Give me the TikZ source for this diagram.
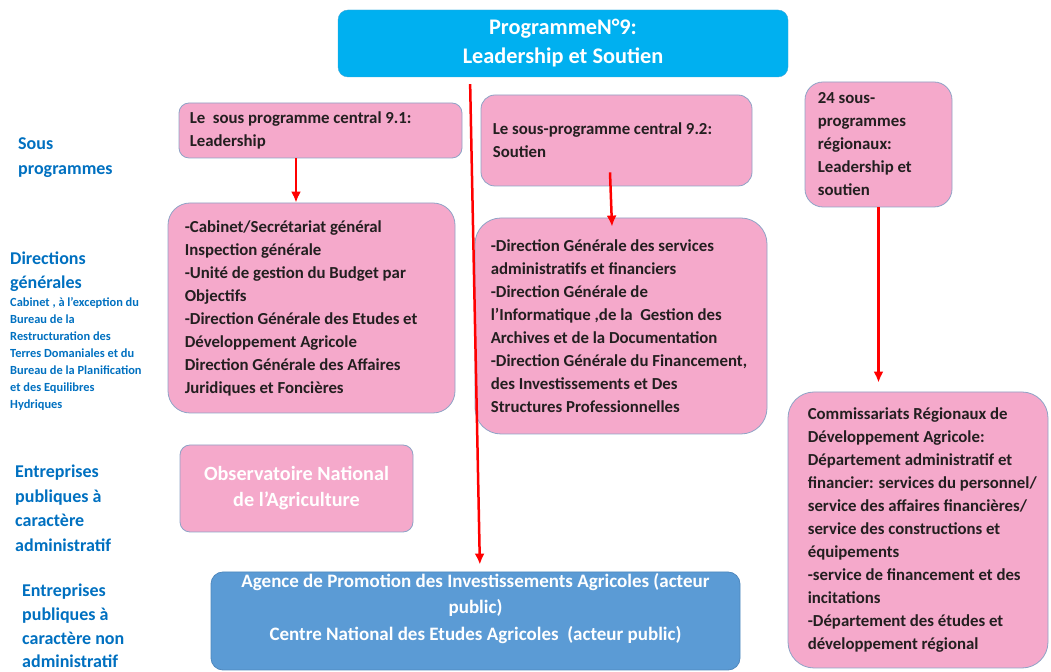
\documentclass[tikz,border=0pt]{standalone}
\usepackage{fontspec}
\setmainfont{Carlito}
\usetikzlibrary{arrows.meta}
\definecolor{progblue}{HTML}{00B0F0}
\definecolor{progline}{HTML}{3EA6D8}
\definecolor{pinkfill}{HTML}{F5A9CB}
\definecolor{pinkline}{HTML}{8EA3C6}
\definecolor{epnablue}{HTML}{5B9BD5}
\definecolor{epnaline}{HTML}{4F88BE}
\definecolor{labelblue}{HTML}{0070C0}
\definecolor{boxink}{HTML}{231F20}
\definecolor{arrowred}{HTML}{FF0000}
\tikzset{
  pinkbox/.style={draw=pinkline,fill=pinkfill,line width=0.8bp,inner sep=0pt},
  boxtext/.style={anchor=west,align=left,inner sep=0pt,text=boxink,
    font=\bfseries\fontsize{16.8bp}{23bp}\selectfont},
  sidelabel/.style={anchor=west,align=left,inner sep=0pt,text=labelblue,
    font=\bfseries\fontsize{18bp}{24.5bp}\selectfont},
  redarrow/.style={->,draw=arrowred,line width=2.5bp},
}
\begin{document}
\begin{tikzpicture}[>={Latex[length=11bp,width=10bp]},line join=bevel,]
    \useasboundingbox (0bp,0bp) rectangle (1051bp,672bp);
    %% programme
    \node (prog) at (563bp,628.5bp) [draw=progline,fill=progblue,rounded corners=10bp,minimum width=450bp,minimum height=67bp,align=center,text=white,font=\bfseries\fontsize{22.3bp}{29bp}\selectfont] {ProgrammeN°9:\\Leadership et Soutien};
    %% sous programmes
    \node (sp1) at (320.5bp,541.5bp) [pinkbox,rounded corners=10bp,minimum width=283bp,minimum height=55bp] {};
    \node (sp1txt) at ([xshift=11bp]sp1.west) [boxtext] {Le\ \ sous programme central 9.1:\\Leadership};
    \node (sp2) at (616.5bp,531.5bp) [pinkbox,rounded corners=14bp,minimum width=271bp,minimum height=91bp] {};
    \node (sp2txt) at ([xshift=12bp]sp2.west) [boxtext] {Le sous-programme central 9.2:\\Soutien};
    \node (sp3) at (878.5bp,527.5bp) [pinkbox,rounded corners=18bp,minimum width=147bp,minimum height=125bp] {};
    \node (sp3txt) at ([xshift=13bp]sp3.west) [boxtext] {24 sous-\\programmes\\régionaux:\\Leadership et\\soutien};
    %% directions
    \node (dg1) at (311.5bp,364bp) [pinkbox,rounded corners=22bp,minimum width=287bp,minimum height=210bp] {};
    \node (dg1txt) at ([xshift=17bp]dg1.west) [boxtext] {-Cabinet/Secrétariat général\\Inspection générale\\-Unité de gestion du Budget par\\Objectifs\\-Direction Générale des Etudes et\\Développement Agricole\\Direction Générale des Affaires\\Juridiques et Foncières};
    \node (dg2) at (621bp,346bp) [pinkbox,rounded corners=26bp,minimum width=292bp,minimum height=216bp] {};
    \node (dg2txt) at ([xshift=16bp]dg2.west) [boxtext] {-Direction Générale des services\\administratifs et financiers\\-Direction Générale de\\l’Informatique ,de la\ \ Gestion des\\Archives et de la Documentation\\-Direction Générale du Financement,\\des Investissements et Des\\Structures Professionnelles};
    \node (crda) at (918bp,142bp) [pinkbox,rounded corners=26bp,minimum width=260bp,minimum height=276bp] {};
    \node (crdatxt) at ([xshift=20bp]crda.west) [boxtext] {Commissariats Régionaux de\\Développement Agricole:\\Département administratif et\\financier: services du personnel/\\service des affaires financières/\\service des constructions et\\équipements\\-service de financement et des\\incitations\\-Département des études et\\développement régional};
    %% entreprises
    \node (obs) at (296.5bp,183.5bp) [pinkbox,rounded corners=10bp,minimum width=233bp,minimum height=87bp,align=center,text=white,font=\bfseries\fontsize{20.2bp}{26bp}\selectfont] {Observatoire National\\de l’Agriculture};
    \node (epna) at (475.5bp,51bp) [draw=epnaline,fill=epnablue,line width=0.8bp,rounded corners=12bp,minimum width=529bp,minimum height=98bp] {};
    \node (epnatxt) at ([yshift=12.5bp]epna.center) [align=center,inner sep=0pt,text=white,font=\bfseries\fontsize{19bp}{26.5bp}\selectfont] {Agence de Promotion des Investissements Agricoles (acteur\\public)\\Centre National des Etudes Agricoles\ \ (acteur public)};
    %% row labels
    \node (souslbl) at (18bp,514.5bp) [sidelabel] {Sous\\programmes};
    \node (dirlbl) at (10bp,400.5bp) [sidelabel] {Directions\\générales};
    \node (dirnote) at (10bp,318bp) [sidelabel,font=\bfseries\fontsize{12.4bp}{17bp}\selectfont] {Cabinet , à l'exception du\\Bureau de la\\Restructuration des\\Terres Domaniales et du\\Bureau de la Planification\\et des Equilibres\\Hydriques};
    \node (adminlbl) at (15bp,163.5bp) [sidelabel] {Entreprises\\publiques à\\caractère\\administratif};
    \node (nonadminlbl) at (22bp,46bp) [sidelabel,font=\bfseries\fontsize{18bp}{23.7bp}\selectfont] {Entreprises\\publiques à\\caractère non\\administratif};
    %% arrows
    \draw [redarrow] ([xshift=-24.5bp]sp1.south) -- ([xshift=-15.5bp]dg1.north);
    \draw [redarrow] ([xshift=-6.5bp,yshift=14bp]sp2.south) -- ([xshift=-9bp,yshift=-9bp]dg2.north);
    \draw [redarrow,shorten >=9bp] (sp3.south) -- (sp3.south |- crda.north);
    \draw [redarrow,shorten <=7bp,shorten >=7bp] ([xshift=-93bp]prog.south) -- ([xshift=4.5bp]epna.north);
    %
\end{tikzpicture}
\end{document}
